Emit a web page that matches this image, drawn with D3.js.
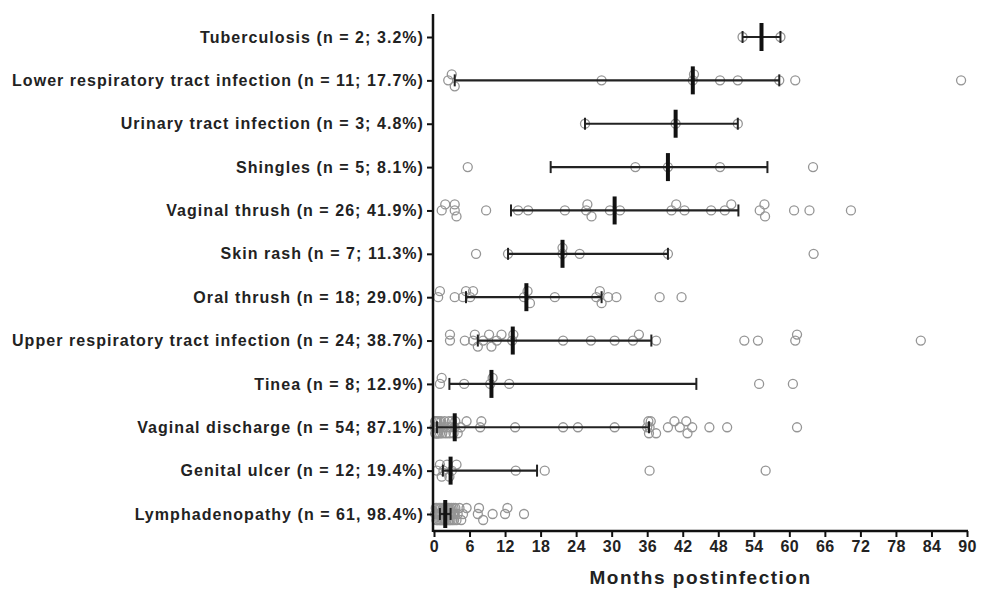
<!DOCTYPE html>
<html>
<head>
<meta charset="utf-8">
<script src="https://cdn.jsdelivr.net/npm/d3@7"></script>
<style>
  body { margin: 0; background: #fff; }
  svg text { font-family: "Liberation Sans", Arial, sans-serif; font-weight: bold; }
</style>
</head>
<body>
<div id="draw_svg"></div>
<script>
// row labels, top to bottom
const categories = [
    'Tuberculosis (n = 2; 3.2%)',
    'Lower respiratory tract infection (n = 11; 17.7%)',
    'Urinary tract infection (n = 3; 4.8%)',
    'Shingles (n = 5; 8.1%)',
    'Vaginal thrush (n = 26; 41.9%)',
    'Skin rash (n = 7; 11.3%)',
    'Oral thrush (n = 18; 29.0%)',
    'Upper respiratory tract infection (n = 24; 38.7%)',
    'Tinea (n = 8; 12.9%)',
    'Vaginal discharge (n = 54; 87.1%)',
    'Genital ulcer (n = 12; 19.4%)',
    'Lymphadenopathy (n = 61, 98.4%)'
];

// median and interquartile range (months)
const medians = [55.3, 43.7, 40.8, 39.5, 30.5, 21.7, 15.6, 13.3, 9.7, 3.5, 2.8, 1.9];
const q1 = [52.1, 3.5, 25.5, 19.7, 13.0, 12.5, 5.4, 7.4, 2.6, 0.5, 1.5, 1.0];
const q3 = [58.5, 58.3, 51.3, 56.3, 51.4, 39.5, 28.3, 36.7, 44.3, 36.3, 17.4, 2.8];

// individual onset times
const tuberculosis = [52.1, 58.5];
const lowerResp = [2.4, 3.0, 3.5, 28.3, 43.7, 43.9, 48.3, 51.3, 58.3, 61.0, 89.0];
const urinary = [25.5, 40.8, 51.3];
const shingles = [5.7, 34.0, 39.5, 48.3, 64.0];
const vaginalThrush = [1.3, 1.9, 3.5, 3.5, 3.8, 8.8, 14.2, 15.9, 22.1, 25.7, 25.9, 26.6, 29.7,
    31.4, 40.1, 40.9, 42.3, 46.8, 49.1, 50.2, 55.0, 55.8, 55.9, 60.8, 63.4, 70.4];
const skinRash = [7.1, 12.5, 21.7, 21.7, 24.6, 39.5, 64.1];
const oralThrush = [0.7, 1.0, 3.5, 4.9, 5.4, 6.1, 6.6, 15.2, 15.8, 16.2, 20.4, 27.4, 28.0,
    28.3, 29.4, 30.8, 38.1, 41.8];
const upperResp = [2.7, 2.7, 5.2, 6.6, 6.9, 7.4, 8.3, 9.3, 9.7, 10.6, 11.4, 13.2, 13.4, 21.8,
    26.5, 30.5, 33.6, 34.6, 37.5, 52.4, 54.7, 61.0, 61.3, 82.2];
const tinea = [1.0, 1.3, 5.1, 9.5, 9.9, 12.7, 54.9, 60.6];
const vaginalDischarge = [0.1, 0.2, 0.2, 0.3, 0.3, 0.4, 0.4, 0.5, 0.5, 0.5, 0.6, 0.6, 0.7, 0.8,
    0.9, 1.0, 1.1, 1.2, 1.4, 1.6, 1.8, 2.0, 2.2, 2.5, 2.6, 2.8, 3.0, 3.3, 3.5, 3.6, 4.0, 4.5, 5.5,
    7.8, 8.0, 13.7, 21.8, 24.3, 30.5, 36.0, 36.2, 36.3, 36.4, 36.6, 37.5, 39.5, 40.6, 41.5, 42.6,
    42.8, 43.6, 46.5, 49.5, 61.3];
const genitalUlcer = [0.5, 1.0, 1.3, 1.6, 2.2, 2.6, 3.0, 3.8, 13.8, 18.7, 36.4, 56.0];
const lymphadenopathy = [0.2, 0.3, 0.4, 0.5, 0.5, 0.6, 0.7, 0.8, 0.9, 0.9, 1.0, 1.0, 1.1, 1.2,
    1.2, 1.3, 1.4, 1.5, 1.5, 1.6, 1.6, 1.7, 1.8, 1.8, 1.9, 1.9, 2.0, 2.0, 2.1, 2.1, 2.2, 2.3, 2.4,
    2.4, 2.5, 2.5, 2.6, 2.7, 2.7, 2.8, 2.9, 3.0, 3.1, 3.2, 3.3, 3.4, 3.5, 3.6, 3.8, 4.0, 4.3, 4.6,
    4.9, 5.5, 7.4, 7.6, 8.3, 9.9, 12.0, 12.4, 15.2];

const pointSets = [tuberculosis, lowerResp, urinary, shingles, vaginalThrush, skinRash,
    oralThrush, upperResp, tinea, vaginalDischarge, genitalUlcer, lymphadenopathy];

const xTicks = d3.range(0, 91, 6);

/**
 * spread overlapping points up/down a little, like the scatter offset
 */
jitterRow = (values, x) => {
    const placed = [];
    const offsets = [0, -6, 6];
    values.slice().sort((a, b) => a - b).forEach(v => {
        const px = x(v);
        let best = 0, bestDist = -1;
        for (const o of offsets) {
            let d = Infinity;
            placed.forEach(p => { d = Math.min(d, Math.hypot(p.px - px, p.dy - o)); });
            if (d >= 7) { best = o; bestDist = d; break; }
            if (d > bestDist) { best = o; bestDist = d; }
        }
        placed.push({v, px, dy: best});
    });
    return placed;
}

styleText = (sel, size, spacing) => {
    sel.attr('font-size', size).attr('fill', '#222')
        .style('font-family', '"Liberation Sans", Arial, sans-serif')
        .style('font-weight', 'bold')
        .style('letter-spacing', spacing + 'px');
}

drawChart = () => {
    const svg = d3.select('#draw_svg').append('svg')
        .attr('width', 982).attr('height', 599);

    const x = d3.scaleLinear().domain([0, 90]).range([434, 967]);
    const y = d3.scalePoint().domain(categories).range([37, 514]);
    const axisY = 531;

    // points first, bars on top
    const rows = svg.append('g').selectAll('g')
        .data(categories)
        .join('g')
        .attr('transform', d => `translate(0,${y(d)})`);

    rows.each(function(d, i) {
        const pts = jitterRow(pointSets[i], x);
        d3.select(this).selectAll('circle')
            .data(pts)
            .join('circle')
            .attr('cx', p => p.px)
            .attr('cy', p => p.dy)
            .attr('r', 4.5)
            .attr('fill', 'none')
            .attr('stroke', '#959595')
            .attr('stroke-width', 1.3);
    });

    rows.append('line')
        .attr('x1', (d, i) => x(q1[i])).attr('x2', (d, i) => x(q3[i]))
        .attr('stroke', '#222').attr('stroke-width', 2.2);
    rows.append('line')
        .attr('x1', (d, i) => x(q1[i])).attr('x2', (d, i) => x(q1[i]))
        .attr('y1', -6).attr('y2', 6)
        .attr('stroke', '#222').attr('stroke-width', 2);
    rows.append('line')
        .attr('x1', (d, i) => x(q3[i])).attr('x2', (d, i) => x(q3[i]))
        .attr('y1', -6).attr('y2', 6)
        .attr('stroke', '#222').attr('stroke-width', 2);
    rows.append('line')
        .attr('x1', (d, i) => x(medians[i])).attr('x2', (d, i) => x(medians[i]))
        .attr('y1', -14).attr('y2', 14)
        .attr('stroke', '#111').attr('stroke-width', 4);

    // x axis
    const xAxis = svg.append('g')
        .attr('transform', `translate(0,${axisY})`)
        .call(d3.axisBottom(x).tickValues(xTicks).tickSize(6).tickSizeOuter(0).tickPadding(4));
    xAxis.select('.domain').attr('stroke', '#111').attr('stroke-width', 2.5)
        .attr('d', `M${x(0) - 1},0H${x(90) + 1}`);
    xAxis.selectAll('.tick line').attr('stroke', '#111').attr('stroke-width', 2);
    styleText(xAxis.selectAll('.tick text'), 16, 0.4);

    // y axis
    const yAxis = svg.append('g')
        .attr('transform', `translate(${x(0) - 1},0)`)
        .call(d3.axisLeft(y).tickSize(6).tickSizeOuter(0).tickPadding(3));
    yAxis.select('.domain').attr('stroke', '#111').attr('stroke-width', 2.5)
        .attr('d', `M0,14V${axisY + 1}`);
    yAxis.selectAll('.tick line').attr('stroke', '#111').attr('stroke-width', 2);
    styleText(yAxis.selectAll('.tick text'), 16, 1.05);

    svg.append('text')
        .attr('x', (x(0) + x(90)) / 2).attr('y', 584)
        .attr('text-anchor', 'middle')
        .call(styleText, 19, 1.5)
        .text('Months postinfection');
}

window.onload = () => {
    drawChart();
}
</script>
</body>
</html>
